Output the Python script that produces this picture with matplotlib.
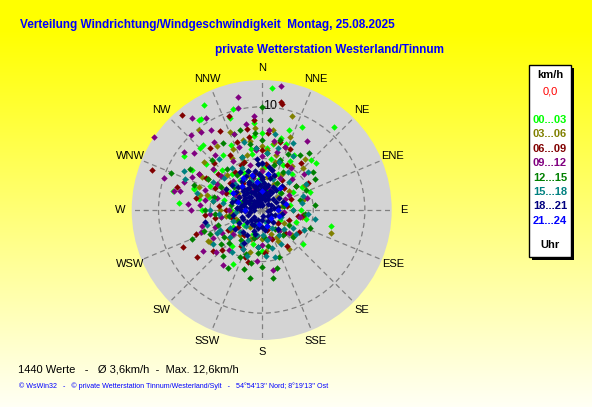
import matplotlib
matplotlib.use('Agg')
import matplotlib.pyplot as plt
from matplotlib.patches import Rectangle
import numpy as np

W, H = 592, 407

# wind direction (deg) and speed (km/h), grouped by hour of day
dir_00 = [5, 344, 325, 41, 26, 19, 49, 103, 102, 275, 288, 282, 300, 315, 341, 354, 208, 129, 284, 331, 326, 318, 305, 287,
          10, 30, 60, 80, 120, 150, 200, 240, 260, 300, 320, 340, 355, 15, 45, 330, 290, 310, 350, 5, 25, 70, 110, 180, 220, 270, 335, 20, 0, 300,
          335, 350, 5, 20, 40, 300, 315, 325, 345, 0, 15, 30, 285, 270, 250, 230, 60, 90, 140, 170, 195, 325, 340, 355, 10, 25, 310, 295, 280, 45]
spd_00 = [11.9, 10.2, 10.6, 10.7, 9.0, 8.2, 7.0, 6.9, 4.4, 8.0, 6.9, 8.8, 7.8, 8.5, 9.4, 7.2, 5.9, 5.2, 5.3, 11.6, 10.6, 8.5, 9.2, 6.9,
          6.5, 5.5, 3.5, 2.8, 2.0, 3.0, 2.5, 3.2, 4.0, 3.5, 4.5, 5.0, 3.0, 2.0, 2.5, 2.0, 2.2, 6.0, 6.0, 4.2, 3.8, 5.0, 3.5, 4.0, 4.5, 5.8, 7.0, 6.8, 1.5, 1.2,
          4.0, 5.5, 6.0, 5.2, 4.5, 4.8, 5.5, 6.5, 3.2, 7.5, 7.2, 6.2, 3.8, 3.0, 2.8, 2.2, 4.5, 3.8, 2.6, 1.8, 3.4, 3.6, 7.8, 8.5, 5.0, 4.8, 7.0, 5.5, 6.2, 6.8]

dir_03 = [18, 322, 338, 108, 238, 299, 284, 44, 152, 174, 21, 8, 335, 310, 240,
          345, 355, 10, 30, 60, 90, 130, 160, 200, 230, 260, 280, 300, 320, 340, 15, 50, 100, 190, 270, 310, 330, 0, 25, 75, 145, 215, 290,
          350, 5, 20, 35, 300, 315, 330, 345, 0, 10, 285, 270, 250, 220, 180, 150, 120, 80, 55, 40, 325, 340, 355, 15, 305, 290, 265, 235, 195, 100]
spd_03 = [9.6, 9.8, 8.2, 7.1, 5.9, 6.6, 6.2, 5.7, 3.4, 4.0, 7.6, 7.8, 6.5, 7.3, 6.0,
          5.5, 4.5, 3.2, 4.0, 4.8, 3.0, 3.8, 2.5, 3.0, 4.2, 3.5, 4.8, 4.0, 3.0, 2.5, 5.5, 2.0, 1.8, 1.5, 2.2, 5.2, 5.8, 6.2, 2.8, 4.2, 4.6, 2.0, 3.0,
          6.8, 5.8, 6.5, 5.2, 6.0, 4.8, 4.2, 7.0, 4.0, 6.6, 5.5, 4.0, 2.6, 3.2, 2.8, 3.0, 2.5, 2.0, 3.2, 6.5, 7.6, 3.5, 8.0, 4.8, 2.8, 6.5, 3.0, 3.6, 4.2, 4.0]

dir_06 = [11, 320, 290, 234, 245, 97, 145, 341, 332, 10, 300, 315, 350, 25, 195, 225,
          340, 355, 5, 20, 35, 55, 80, 110, 135, 165, 185, 210, 235, 255, 275, 295, 310, 325, 345, 0, 15, 300, 330, 40, 265, 120, 200, 350,
          5, 15, 30, 45, 300, 310, 320, 335, 350, 0, 280, 260, 240, 215, 190, 160, 130, 100, 70, 60, 325, 340, 355, 20, 295, 285, 270, 250, 230, 175]
spd_06 = [10.5, 12.0, 11.3, 7.7, 8.4, 4.0, 4.3, 9.6, 8.7, 10.6, 7.0, 6.5, 8.0, 6.5, 5.2, 5.5,
          5.0, 6.0, 4.5, 5.0, 3.5, 4.0, 2.5, 2.8, 3.2, 2.0, 3.6, 4.0, 2.8, 3.0, 4.2, 5.0, 4.0, 3.2, 2.2, 3.0, 2.0, 2.5, 6.2, 6.0, 5.5, 4.2, 4.8, 7.2,
          7.5, 6.8, 5.0, 3.0, 6.2, 5.5, 7.8, 4.8, 3.6, 5.8, 6.5, 4.6, 3.8, 3.0, 2.6, 3.0, 2.0, 3.6, 3.0, 5.2, 4.5, 7.0, 8.8, 3.5, 3.8, 8.5, 3.5, 6.8, 6.2, 4.2]

dir_09 = [9, 348, 304, 317, 288, 282, 270, 169, 227, 250, 355, 328, 33, 347, 323, 329, 307, 310, 283, 322, 295, 275, 215,
          300, 315, 330, 345, 0, 15, 35, 60, 95, 140, 180, 205, 230, 250, 270, 285, 310, 320, 340, 355, 20, 300, 290, 265, 240, 10, 335, 45,
          5, 20, 30, 50, 300, 310, 325, 340, 355, 0, 280, 260, 240, 220, 195, 165, 130, 100, 75, 65, 330, 345, 350, 15, 295, 290, 275, 255, 235, 185]
spd_09 = [12.2, 11.2, 12.6, 10.0, 10.0, 8.7, 6.9, 5.9, 6.0, 6.3, 9.1, 9.2, 8.0, 10.1, 11.2, 10.4, 9.4, 8.6, 8.1, 9.6, 7.5, 6.0, 6.5,
          5.0, 4.0, 5.5, 4.5, 5.2, 4.0, 5.0, 3.0, 2.2, 2.6, 3.4, 4.2, 3.6, 4.8, 3.2, 4.5, 6.2, 7.0, 6.5, 2.5, 2.2, 3.0, 5.8, 5.0, 5.5, 6.8, 2.0, 4.2,
          7.8, 6.5, 3.6, 5.4, 7.0, 5.2, 8.0, 7.8, 5.8, 3.8, 5.6, 4.0, 4.4, 5.0, 2.8, 2.8, 3.4, 3.8, 4.5, 2.5, 3.5, 3.2, 8.5, 5.8, 4.2, 8.0, 7.2, 6.0, 7.0, 5.0]

dir_12 = [0, 190, 171, 210, 197, 191, 247, 53, 65, 5, 292, 251, 60, 300, 40, 180, 220, 160,
          340, 355, 15, 30, 50, 75, 95, 120, 145, 170, 195, 215, 235, 260, 280, 300, 320, 335, 10, 290, 245, 200, 130, 85, 25, 350, 315, 270,
          5, 20, 35, 55, 300, 310, 325, 340, 355, 0, 285, 265, 245, 225, 205, 185, 165, 140, 110, 80, 330, 345, 15, 30, 290, 275, 250, 230, 210, 175]
spd_12 = [10.0, 6.7, 6.7, 6.5, 6.0, 5.2, 7.3, 6.2, 4.7, 8.8, 9.5, 4.5, 6.0, 8.0, 7.2, 5.5, 5.8, 4.8,
          4.0, 3.5, 4.5, 3.0, 2.5, 3.8, 4.2, 3.0, 2.2, 3.5, 2.8, 3.5, 4.5, 3.2, 3.0, 4.5, 5.2, 3.0, 2.0, 2.0, 2.5, 4.5, 4.0, 5.2, 6.0, 6.5, 6.8, 5.5,
          5.5, 5.2, 6.5, 4.0, 6.0, 3.5, 4.2, 5.5, 7.5, 6.8, 4.8, 4.5, 5.5, 4.5, 5.0, 4.2, 5.8, 3.2, 5.0, 2.2, 7.5, 8.0, 7.0, 4.2, 7.0, 2.4, 6.0, 5.2, 3.8, 2.6]

dir_15 = [100, 297, 164, 198, 243, 176, 71, 292, 115, 150, 210, 230, 25, 60, 320, 10, 285,
          340, 355, 10, 30, 45, 70, 90, 110, 130, 150, 170, 190, 205, 225, 250, 265, 280, 300, 320, 335, 0, 20, 200, 160, 120, 80, 240, 310,
          5, 20, 35, 50, 300, 315, 325, 340, 355, 0, 280, 265, 245, 225, 205, 185, 165, 145, 125, 95, 330, 345, 15, 30, 290, 270, 255, 235, 215, 175]
spd_15 = [5.2, 8.4, 4.7, 4.7, 4.9, 2.4, 4.2, 8.0, 4.5, 3.8, 3.8, 4.0, 7.2, 5.0, 6.5, 7.5, 6.5,
          3.0, 2.2, 3.5, 2.5, 3.8, 2.2, 3.0, 2.0, 2.8, 2.0, 3.0, 2.5, 3.2, 2.2, 3.0, 2.5, 3.8, 3.2, 2.4, 4.5, 4.5, 5.0, 1.5, 1.2, 3.5, 4.0, 3.5, 4.8,
          5.5, 3.2, 4.5, 5.8, 5.5, 3.6, 5.0, 5.5, 6.0, 2.8, 4.8, 4.2, 4.5, 3.0, 4.2, 3.6, 3.8, 3.0, 4.0, 4.5, 3.5, 6.8, 6.2, 6.0, 3.0, 5.0, 5.5, 5.8, 5.0, 4.5]

dir_18 = [258, 207, 208, 330, 340, 350, 0, 10, 320, 310, 300, 290, 280, 270, 250, 230, 350, 5, 335, 15, 30, 45, 60, 90, 120, 150,
          180, 200, 220, 240, 260, 315, 325, 345, 355, 20, 300, 285, 310, 340, 0, 25, 330, 345, 320, 5, 275, 295, 305, 335, 350, 10,
          40, 70, 100, 140, 170, 190, 215, 235, 355, 330, 300, 15,
          350, 355, 0, 5, 340, 330, 320, 310, 300, 290, 15, 25, 35, 345, 335, 325, 315, 305, 280, 265, 245, 225, 210, 195, 180,
          160, 135, 110, 80, 55, 20, 10, 355, 0, 350,
          0, 330, 345, 355, 10, 20, 310, 320, 300, 290, 340, 350, 5, 15, 30, 45, 60, 80, 100, 135, 170, 200, 230, 260, 280, 325,
          335, 0, 25, 300, 315, 355, 340, 270, 250, 215]
spd_18 = [5.6, 1.6, 3.6, 1.0, 1.5, 2.0, 1.2, 1.8, 2.2, 1.5, 2.5, 1.8, 1.2, 2.0, 1.4, 1.8, 2.8, 2.6, 3.0, 3.2, 2.0, 1.5, 1.0, 0.8, 1.0, 1.2,
          1.0, 2.2, 2.8, 2.5, 2.8, 3.2, 0.6, 0.8, 3.5, 1.0, 0.8, 3.0, 3.8, 4.0, 3.2, 2.5, 2.5, 2.2, 1.2, 0.5, 2.4, 1.0, 3.0, 1.8, 1.2, 2.3,
          3.0, 2.2, 2.0, 2.4, 2.0, 1.8, 1.2, 3.2, 4.5, 4.2, 4.0, 4.0,
          1.6, 2.4, 2.0, 1.5, 2.6, 2.0, 2.8, 2.2, 1.8, 2.6, 1.6, 1.6, 2.4, 3.4, 3.6, 3.4, 2.6, 2.0, 2.0, 1.6, 2.0, 1.4, 2.8, 2.4, 1.6,
          1.6, 1.6, 1.4, 1.6, 2.0, 3.6, 4.2, 5.0, 4.6, 3.8,
          0.5, 0.8, 1.2, 1.6, 1.2, 1.5, 1.0, 1.6, 1.4, 0.8, 2.0, 2.5, 2.2, 2.5, 1.2, 0.8, 1.6, 1.2, 0.6, 0.8, 0.6, 1.0, 1.0, 1.2, 1.6, 2.5,
          2.8, 3.0, 2.0, 2.0, 1.8, 0.7, 0.5, 0.7, 2.0, 1.6]

dir_21 = [190, 160, 130, 110, 90, 75, 40, 10, 345, 320, 290, 0, 350, 330, 300, 270]
spd_21 = [1.4, 1.6, 1.2, 1.8, 1.6, 2.4, 2.8, 3.5, 3.5, 3.0, 2.4, 1.8, 2.8, 3.6, 3.2, 1.6]

groups = [(dir_00, spd_00), (dir_03, spd_03), (dir_06, spd_06), (dir_09, spd_09),
          (dir_12, spd_12), (dir_15, spd_15), (dir_18, spd_18), (dir_21, spd_21)]
hour_labels = ['00...03', '03...06', '06...09', '09...12', '12...15', '15...18', '18...21', '21...24']
colors = ['#00FF00', '#808000', '#800000', '#800080', '#008000', '#008080', '#000080', '#0000FF']
compass = ['N', 'NNE', 'NE', 'ENE', 'E', 'ESE', 'SE', 'SSE', 'S', 'SSW', 'SW', 'WSW', 'W', 'WNW', 'NW', 'NNW']
rmax = 12.6

fig = plt.figure(figsize=(W / 100, H / 100), dpi=100)

# yellow -> pale background gradient
bg = fig.add_axes([0, 0, 1, 1])
yy = np.linspace(0, 1, H)
blue = np.clip((yy * H - 30) / (H - 30) * 245, 0, 245) / 255
img = np.zeros((H, 2, 3))
img[:, :, 0] = 1
img[:, :, 1] = 1
img[:, :, 2] = blue[:, None]
bg.imshow(img, aspect='auto', extent=[0, 1, 0, 1])
bg.axis('off')

def px(x, y):
    return x / W, 1 - y / H

# polar scatter
cx, cy, R = 261.7, 210, 130
ax = fig.add_axes([(cx - R) / W, (H - cy - R) / H, 2 * R / W, 2 * R / H], projection='polar')
ax.set_facecolor('#D4D4D4')
ax.set_theta_zero_location('N')
ax.set_theta_direction(-1)
ax.set_ylim(0, rmax)
ax.set_rgrids([5, 10], labels=['', ''])
ax.set_thetagrids(np.arange(0, 360, 22.5), labels=[''] * 16)
ax.grid(True, color='#808080', linestyle=(0, (4, 3)), linewidth=0.9)
ax.spines['polar'].set_visible(False)

for i, name in enumerate(compass):
    ax.text(np.radians(i * 22.5), 13.75, name, ha='center', va='center',
            fontsize=8, family='Liberation Sans', color='black', clip_on=False)

ax.text(np.radians(4.8), 10.1, '10', ha='center', va='center', fontsize=9,
        family='Liberation Sans', color='black', zorder=1)
ax.text(np.radians(80), 0.65, '0', ha='center', va='center', fontsize=8,
        family='Liberation Sans', color='black', zorder=1)

for (d, s), c in zip(groups, colors):
    ax.plot(np.radians(d), s, linestyle='none', marker='D', markersize=3.3,
            markeredgewidth=0, color=c, zorder=3, clip_on=False)

# titles
fig.text(*px(20, 25), 'Verteilung Windrichtung/Windgeschwindigkeit  Montag, 25.08.2025',
         ha='left', va='center', fontsize=8.5, fontweight='bold', color='#0000FF', family='Liberation Sans')
fig.text(*px(215, 50), 'private Wetterstation Westerland/Tinnum',
         ha='left', va='center', fontsize=8.5, fontweight='bold', color='#0000FF', family='Liberation Sans')

# legend box with shadow
bx0, by0, bx1, by1 = 529, 65, 571, 257
fig.patches.append(Rectangle(px(bx0 + 3, by1 + 3), (bx1 - bx0) / W, (by1 - by0) / H,
                             transform=fig.transFigure, facecolor='black', edgecolor='none', zorder=1))
fig.patches.append(Rectangle(px(bx0, by1), (bx1 - bx0) / W, (by1 - by0) / H,
                             transform=fig.transFigure, facecolor='white', edgecolor='black', linewidth=1, zorder=2))
lx = (bx0 + bx1) / 2
fig.text(*px(lx, 75), 'km/h', ha='center', va='center', fontsize=8, fontweight='bold',
         family='Liberation Sans', color='black', zorder=3)
fig.text(*px(lx, 91.5), '0,0', ha='center', va='center', fontsize=8,
         family='Liberation Sans', color='red', zorder=3)
for k, (lab, c) in enumerate(zip(hour_labels, colors)):
    fig.text(*px(lx, 120 + k * 14.4), lab, ha='center', va='center', fontsize=8, fontweight='bold',
             family='Liberation Sans', color=c, zorder=3)
fig.text(*px(lx, 245), 'Uhr', ha='center', va='center', fontsize=8, fontweight='bold',
         family='Liberation Sans', color='black', zorder=3)

# footer
fig.text(*px(18, 370), '1440 Werte   -   Ø 3,6km/h  -  Max. 12,6km/h', ha='left', va='center',
         fontsize=8, family='Liberation Sans', color='black')
fig.text(*px(19, 386), "© WsWin32   -   © private Wetterstation Tinnum/Westerland/Sylt   -   54°54'13'' Nord; 8°19'13'' Ost",
         ha='left', va='center', fontsize=5.1, family='Liberation Sans', color='#0000FF')

fig.savefig('out.png', dpi=100)
plt.close(fig)
